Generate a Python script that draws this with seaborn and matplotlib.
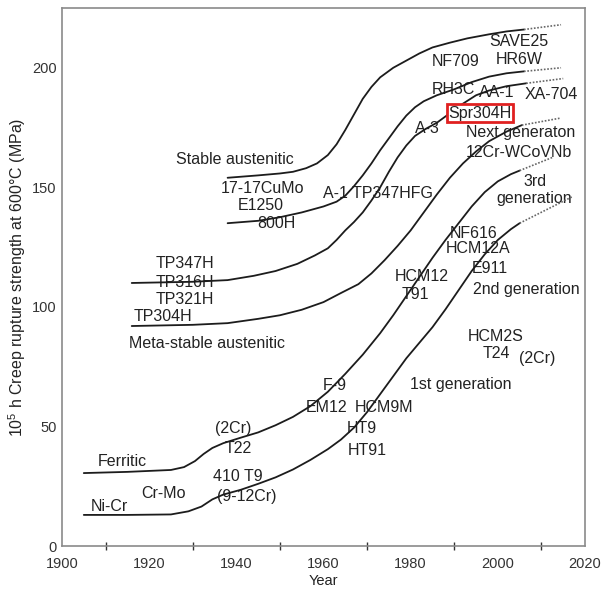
import pandas as pd
import matplotlib
matplotlib.use("Agg")
import matplotlib.pyplot as plt
import seaborn as sns

# curves: year -> 10^5 h creep rupture strength (MPa)
stable_yr = [1938, 1945, 1950, 1953, 1956, 1958.5, 1961, 1963, 1965, 1967, 1969, 1971, 1973,
             1976, 1979, 1982, 1985, 1989, 1993, 1998, 2002, 2006]
stable_val = [154, 155, 155.8, 156.5, 158, 160, 163.5, 168, 174, 180.5, 187, 192, 196,
              200, 203, 206, 208.5, 210.5, 212.3, 214, 215.2, 216]
stable_tail = ([2006, 2014.5], [216, 218])

h800_yr = [1938, 1945, 1950, 1955, 1960, 1963, 1965, 1967, 1969, 1971, 1973, 1975, 1977,
           1979, 1981, 1983, 1986, 1990, 1994, 1998, 2002, 2006]
h800_val = [135, 136, 137.5, 139.5, 142, 144, 146.5, 150.5, 155, 160, 165.5, 170.5, 175.5,
            180, 183.5, 186, 188.5, 191, 194, 196.3, 197.7, 198.5]
h800_tail = ([2006, 2014.5], [198.5, 200])

tp347_yr = [1916, 1930, 1938, 1944, 1949, 1954, 1958, 1961, 1963, 1965, 1967, 1969, 1971,
            1973, 1975, 1977, 1979, 1981, 1983.5, 1986, 1989, 1992, 1995, 1998, 2002, 2006.5]
tp347_val = [110, 110.5, 111.2, 113, 115, 118, 121.5, 124.5, 128, 132, 135.5, 139.5, 144.5,
             150, 156.5, 162.5, 167.5, 171.5, 174.5, 177, 181, 185, 188.5, 190.5, 192.3, 193.5]
tp347_tail = ([2006.5, 2015], [193.5, 195.5])

tp304_yr = [1916, 1930, 1938, 1945, 1950, 1955, 1960, 1964, 1968, 1971, 1974, 1977, 1980,
            1983, 1986, 1989, 1992, 1995, 1998, 2002, 2005.5]
tp304_val = [92, 92.5, 93.2, 95, 96.5, 98.8, 102, 105.8, 109.5, 114, 119.5, 125.5, 132,
             139.5, 147, 154, 160, 165, 169.3, 173.3, 176]
tp304_tail = ([2005.5, 2014.5], [176, 179])

ferritic_yr = [1905, 1915, 1925, 1928, 1930.5, 1932.5, 1934.5, 1937, 1941, 1945, 1949, 1953,
               1957, 1961, 1965, 1969, 1973, 1976, 1979, 1982, 1985, 1988, 1991, 1994, 1997,
               2000, 2003, 2005]
ferritic_val = [30.5, 31, 31.8, 33, 35.5, 38.5, 41, 43, 45.3, 47.5, 50.5, 54,
                58.5, 64.5, 72, 80, 89, 96.5, 104.5, 112.5, 120.5, 128, 135, 142, 148,
                152.5, 155.5, 157]
ferritic_tail = ([2005, 2012.5], [157, 162.5])

nicr_yr = [1905, 1915, 1925, 1929, 1932, 1934.5, 1937, 1941, 1945, 1949, 1953, 1957, 1961,
           1964, 1967, 1970, 1973, 1976, 1979, 1982, 1985, 1988, 1991, 1994, 1997, 2000,
           2003, 2005]
nicr_val = [13, 13, 13.2, 14.5, 16.5, 19.5, 21.5, 23.5, 26, 28.7, 32, 36, 40.5,
            44.5, 49.5, 56, 63.5, 71, 78.5, 85, 91.5, 99, 107, 115, 122, 128,
            132.5, 135]
nicr_tail = ([2005, 2017], [135, 146])

labels = ["SAVE25", "HR6W", "NF709", "RH3C", "AA-1", "XA-704", "A-3",
          "Next generaton", "12Cr-WCoVNb", "3rd", "generation",
          "Stable austenitic", "17-17CuMo", "E1250", "800H", "A-1 TP347HFG",
          "NF616", "HCM12A", "E911", "2nd generation", "HCM12", "T91",
          "TP347H", "TP316H", "TP321H", "TP304H", "Meta-stable austenitic",
          "HCM2S", "T24", "(2Cr)", "1st generation", "F-9", "EM12", "HCM9M",
          "HT9", "HT91", "(2Cr)", "T22", "Ferritic", "410 T9", "Cr-Mo",
          "(9-12Cr)", "Ni-Cr"]
label_x = [2004.9, 2004.9, 1990.4, 1989.7, 1999.8, 2012.2, 1983.8,
           2005.3, 2004.9, 2008.5, 2008.3,
           1939.7, 1945.9, 1945.7, 1949.1, 1972.5,
           1994.5, 1995.5, 1998.2, 2006.5, 1982.6, 1981.0,
           1928.2, 1928.2, 1928.2, 1923.2, 1933.3,
           1999.4, 1999.6, 2009.0, 1991.6, 1962.6, 1960.8, 1973.9,
           1968.8, 1970.0, 1939.2, 1940.4, 1913.8, 1940.4, 1923.4,
           1942.5, 1910.8]
label_y = [210.9, 203.3, 202.5, 191.0, 189.8, 188.7, 174.5,
           172.8, 164.6, 152.4, 145.3,
           161.6, 149.5, 142.4, 134.9, 147.4,
           130.7, 124.4, 116.1, 107.3, 112.7, 105.2,
           118.2, 110.2, 103.1, 96.0, 84.8,
           87.7, 80.6, 78.5, 67.6, 67.2, 58.0, 58.0,
           49.3, 40.1, 49.3, 40.9, 35.5, 29.2, 22.1,
           20.5, 16.7]
boxed_label = ("Spr304H", 1995.9, 181.0)

solid = {"stable": (stable_yr, stable_val), "800H": (h800_yr, h800_val),
         "TP347H": (tp347_yr, tp347_val), "TP304H": (tp304_yr, tp304_val),
         "ferritic": (ferritic_yr, ferritic_val), "NiCr": (nicr_yr, nicr_val)}
tails = {"stable": stable_tail, "800H": h800_tail, "TP347H": tp347_tail,
         "TP304H": tp304_tail, "ferritic": ferritic_tail, "NiCr": nicr_tail}

def to_long(d):
    rows = []
    for name, (yr, val) in d.items():
        for a, b in zip(yr, val):
            rows.append({"curve": name, "year": a, "mpa": b})
    return pd.DataFrame(rows)

df = to_long(solid)
df_tail = to_long(tails)

sns.set_theme(style="white")
plt.rcParams['font.family'] = ['Liberation Sans', 'DejaVu Sans']
plt.rcParams['mathtext.default'] = 'regular'

fig = plt.figure(figsize=(6.04, 5.90), dpi=100)
ax = fig.add_axes([62 / 604, 1 - 546 / 590, 523 / 604, 538 / 590])

sns.lineplot(data=df, x="year", y="mpa", units="curve", estimator=None, sort=False,
             color="#1c1c1c", linewidth=1.3, ax=ax, zorder=3)
sns.lineplot(data=df_tail, x="year", y="mpa", units="curve", estimator=None, sort=False,
             color="#666666", linewidth=1.2, linestyle=(0, (1, 1)), ax=ax, zorder=3)

for t, x, y in zip(labels, label_x, label_y):
    ax.text(x, y, t, ha="center", va="center", fontsize=11.5, color="#222222", zorder=2)
t, x, y = boxed_label
ax.text(x, y, t, ha="center", va="center", fontsize=11.5, color="#222222", zorder=4,
        bbox=dict(boxstyle="square,pad=0.08", fc="white", ec="#e02020", lw=2))

ax.set_xlim(1900, 2020)
ax.set_ylim(0, 225)
ax.set_xticks(range(1900, 2021, 20))
ax.set_xticks(range(1910, 2020, 20), minor=True)
ax.set_yticks([0, 50, 100, 150, 200])
ax.tick_params(axis="x", which="major", direction="inout", length=9, width=1, colors="#333333", labelsize=10.5)
ax.tick_params(axis="x", which="minor", direction="inout", length=6, width=1, color="#333333", bottom=True)
ax.tick_params(axis="y", direction="in", length=7, width=1, colors="#333333", labelsize=10.5, pad=4)
ax.set_xlabel("Year", fontsize=10.5, color="#222222", labelpad=2)
ax.set_ylabel("10$^5$ h Creep rupture strength at 600°C (MPa)", fontsize=11.5, color="#222222", labelpad=3)
for s in ax.spines.values():
    s.set_color("#8a8a8a")
    s.set_linewidth(1.2)

fig.savefig("out.png", dpi=100)
